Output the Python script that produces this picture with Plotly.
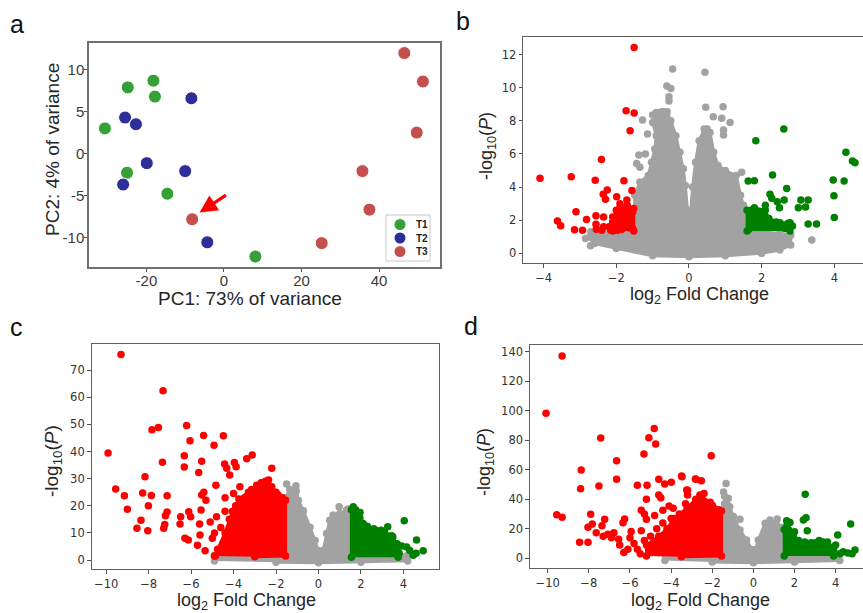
import plotly.graph_objects as go

W, H = 863, 613

# ---------------- Panel a : PCA ----------------
pca_groups = ["T1", "T2", "T3"]
pca_t1_x = [-30.7, -24.8, -18.2, -17.8, -25.0, -14.6, 8.1]
pca_t1_y = [3.0, 7.9, 8.7, 6.8, -2.3, -4.8, -12.3]
pca_t2_x = [-8.4, -25.5, -22.7, -19.9, -10.0, -26.0, -4.3]
pca_t2_y = [6.6, 4.3, 3.5, -1.15, -2.1, -3.7, -10.6]
pca_t3_x = [46.5, 51.3, 49.7, 35.7, 37.5, 25.2, -8.2]
pca_t3_y = [12.0, 8.6, 2.5, -2.1, -6.7, -10.7, -7.85]
pca_xticks = [-20, 0, 20, 40]
pca_yticks = [-10, -5, 0, 5, 10]
arrow_tail = (0.9, -4.85)
arrow_head = (-6.3, -7.05)

# ---------------- Panel b : volcano ----------------
b_gray_env_x = [-2.85, -2.7, -2.0, -1.53, -1.49, -1.35, -1.12, -1.03, -0.94, -0.9, -1.0, -0.92, -0.76, -0.6, -0.5,
                -0.36, -0.25, -0.16, -0.1, -0.04, 0.0, 0.05, 0.1, 0.18, 0.28, 0.42, 0.58, 0.68, 0.8, 1.0, 1.3, 1.42,
                1.5, 1.6, 2.0, 2.5, 2.8, 2.8, 2.5, 2.0, 1.0, 0.0, -1.0, -2.0, -2.6]
b_gray_env_y = [0.9, 1.3, 1.3, 1.4, 3.5, 4.3, 4.7, 5.5, 6.3, 7.1, 7.9, 8.35, 8.55, 8.55, 8.0, 7.1, 6.1, 5.1, 4.1,
                2.6, 1.6, 2.6, 4.0, 5.5, 6.8, 7.5, 7.3, 6.1, 5.3, 5.0, 4.7, 3.5, 2.9, 1.5, 1.3, 1.2, 1.1, 0.5, 0.2,
                0.0, -0.15, -0.2, -0.15, 0.3, 0.6]
b_gray_x = [-0.45, -0.61, -0.5, -0.55, -0.55, -1.28, -1.0, -1.14, -1.38, -1.44, -1.2, -1.35, -2.71, -0.16, 0.44,
            0.46, 0.94, 0.67, 0.9, 1.13, 0.95, 0.95, 0.5, 3.38, 1.45, 1.2, 1.0, 2.75, -0.9, -0.7]
b_gray_y = [11.13, 10.1, 9.95, 9.45, 9.2, 8.05, 8.35, 7.2, 5.94, 5.43, 6.0, 5.2, 0.46, 5.1, 10.93, 8.82, 8.85,
            8.25, 8.15, 7.9, 7.45, 7.15, 7.5, 0.8, 4.9, 4.6, 4.6, 0.95, 8.5, 8.55]
b_red_env_x = [-2.1, -2.1, -1.9, -1.7, -1.52, -1.52]
b_red_env_y = [1.35, 2.2, 2.7, 2.9, 2.7, 1.35]
b_red_x = [-1.51, -1.73, -1.51, -1.62, -2.41, -4.10, -3.24, -2.58, -1.79, -1.57, -2.25, -2.36, -2.30, -1.99, -1.71,
           -1.9, -3.11, -3.62, -3.53, -3.15, -2.93, -2.82, -2.56, -2.35, -2.56, -2.55, -2.20, -1.95, -1.8, -1.7,
           -1.55, -1.9, -1.65, -1.75, -1.55, -1.97, -2.35, -2.1, -2.0, -1.6, -2.4, -1.85, -2.15]
b_red_y = [12.42, 8.61, 8.47, 7.4, 5.67, 4.53, 4.63, 4.41, 4.38, 3.8, 3.82, 3.56, 3.26, 3.42, 3.22, 3.0, 2.51,
           1.95, 1.67, 1.43, 1.39, 2.05, 2.27, 2.2, 1.75, 1.45, 1.6, 2.3, 2.7, 2.35, 2.5, 1.65, 1.55, 1.9, 1.5,
           1.4, 1.6, 1.9, 2.6, 2.0, 1.4, 1.45, 1.4]
b_green_env_x = [1.6, 1.6, 1.8, 2.1, 2.2, 2.5, 2.78, 2.78]
b_green_env_y = [1.35, 2.6, 2.75, 2.6, 2.1, 1.85, 1.85, 1.35]
b_green_x = [2.61, 1.84, 4.32, 4.5, 4.57, 2.30, 1.63, 1.80, 3.97, 4.27, 3.99, 4.0, 2.23, 2.28, 2.49, 2.62, 2.69,
             2.43, 3.08, 3.28, 3.01, 3.21, 3.28, 3.51, 2.73, 2.55, 2.2, 2.0, 1.7, 1.9, 2.1, 2.4, 1.65, 2.65, 2.85]
b_green_y = [7.5, 6.8, 6.1, 5.57, 5.47, 4.73, 4.37, 4.38, 4.43, 4.37, 3.48, 2.17, 3.56, 3.32, 2.76, 3.22, 3.92,
             3.12, 3.22, 3.22, 2.76, 2.8, 1.77, 1.77, 1.81, 1.6, 1.75, 2.2, 2.6, 2.5, 2.9, 1.9, 1.45, 1.5, 1.65]
b_xticks = [-4, -2, 0, 2, 4]
b_yticks = [0, 2, 4, 6, 8, 10, 12]

# ---------------- Panel c : volcano ----------------
c_gray_env_x = [-4.9, -4.9, -1.55, -1.55, -1.35, -1.05, -0.95, -0.71, -0.40, -0.16, -0.02, 0.07, 0.22, 0.38, 0.53,
                0.69, 1.0, 1.32, 1.5, 1.5, 4.2, 4.2, 2.0, 0.0, -2.0]
c_gray_env_y = [-0.3, 1.8, 2.2, 23, 26, 25.5, 22, 18.2, 12.1, 7.2, 3.5, 2.4, 3.5, 9.8, 14.7, 16.6, 17.1, 18.4, 17,
                2.2, 1.8, -0.3, -0.8, -1.0, -0.8]
c_gray_x = [-1.5, -1.06, 0.97, 1.40, 4.07, -1.2, -1.1]
c_gray_y = [28.0, 27.4, 19.6, 18.8, 1.2, 25.5, 24.5]
c_red_env_x = [-4.85, -4.75, -4.4, -4.05, -3.75, -3.15, -2.7, -2.4, -1.9, -1.55, -1.55, -3.0]
c_red_env_y = [1.5, 4, 10, 18, 22.5, 26, 28.5, 27.5, 24, 22, 1.5, 1.2]
c_red_x = [-9.30, -7.32, -7.84, -7.54, -6.21, -6.05, -5.41, -4.48, -4.92, -9.91, -6.32, -7.35, -5.5, -6.32, -5.64,
           -3.38, -3.12, -4.42, -4.32, -3.96, -3.88, -4.18, -8.17, -9.55, -9.14, -8.28, -7.87, -7.13, -8.01, -9.0,
           -7.13, -7.21, -7.24, -7.29, -8.36, -8.55, -8.04, -6.49, -6.52, -6.11, -6.02, -6.29, -6.13, -5.53, -5.6,
           -5.58, -5.70, -5.34, -5.5, -5.4, -5.3, -4.83, -5.1, -4.9, -3.70, -2.91, -2.5, -4.4, -4.0, -2.2, -2.35,
           -3.0, -4.7, -4.5, -4.3, -4.6, -4.2, -4.4, -3.9, -3.6, -3.3, -2.9, -2.2, -2.0, -1.7, -4.9, -5.0, -4.8]
c_red_y = [75.7, 62.4, 48.0, 48.8, 49.6, 44.0, 45.9, 45.8, 42.3, 39.4, 38.4, 36.0, 36.4, 34.3, 32.3, 37.3, 38.7,
           35.4, 33.8, 35.9, 34.4, 31.3, 30.7, 26.2, 23.7, 24.7, 23.8, 23.7, 20.0, 18.7, 17.7, 16.3, 13.1, 11.7,
           14.7, 11.7, 10.8, 16.0, 13.3, 17.8, 16.0, 8.0, 7.4, 18.4, 13.3, 9.2, 5.5, 3.4, 24, 25, 22, 27.6, 14,
           10, 27.0, 27.6, 29, 23, 24.5, 33.8, 29.5, 25.5, 3, 6, 9, 12, 15, 18, 20, 22, 25, 26, 27, 25, 23, 1.5,
           8, 16]
c_green_env_x = [1.55, 1.55, 1.75, 1.95, 2.3, 2.7, 3.1, 3.45, 3.75, 3.75]
c_green_env_y = [1.0, 18.5, 18.5, 15.5, 12, 11, 10.5, 9, 5, 1.0]
c_green_x = [4.04, 4.62, 4.93, 4.46, 4.15, 3.92, 3.26, 1.64, 1.96, 2.3, 2.6, 2.95, 3.5, 3.7, 4.3, 4.6, 3.8, 1.8,
             2.1, 3.1]
c_green_y = [14.5, 7.4, 3.4, 1.8, 4.8, 5.2, 12.3, 19.6, 17.5, 12.5, 11.5, 11, 8.5, 6, 3.5, 2.5, 2.5, 15, 13.5, 9.5]
c_xticks = [-10, -8, -6, -4, -2, 0, 2, 4]
c_yticks = [0, 10, 20, 30, 40, 50, 60, 70]

# ---------------- Panel d : volcano ----------------
d_gray_env_x = [-4.3, -4.3, -1.55, -1.55, -1.4, -1.15, -0.97, -0.65, -0.33, -0.1, 0.03, 0.1, 0.24, 0.57, 0.81, 1.1,
                1.45, 1.45, 4.2, 4.2, 2.0, 0.0, -2.0]
d_gray_env_y = [-1.5, 2.5, 3, 33, 37, 35, 28.3, 19.2, 12.4, 6, 3.5, 6, 12.4, 23.7, 25.9, 24, 21, 3, 2.5, -1.5, -2.5,
                -3, -2.5]
d_gray_x = [-1.33, -1.22, -1.3, -0.65, 1.16, -1.45, -1.4]
d_gray_y = [50.8, 40.7, 37.3, 26.5, 26.7, 45, 42]
d_red_env_x = [-5.2, -5.2, -4.6, -4.2, -3.87, -3.22, -2.6, -2.1, -1.55, -1.55, -3.5]
d_red_env_y = [1.5, 9, 15, 20, 27, 34, 43, 38, 32, 1.5, 1.0]
d_red_x = [-9.30, -10.08, -7.42, -4.82, -5.08, -4.75, -5.32, -6.65, -8.37, -6.65, -8.40, -7.51, -9.56, -9.30, -7.91,
           -8.04, -7.83, -7.23, -7.36, -7.64, -8.45, -8.04, -7.07, -6.78, -6.55, -6.26, -6.34, -6.1, -5.64, -5.94,
           -5.45, -5.64, -5.17, -5.45, -5.3, -5.2, -5.2, -4.8, -4.6, -4.6, -4.5, -4.31, -3.99, -3.47, -3.2, -3.2,
           -2.82, -2.53, -4.1, -3.9, -4.4, -2.05, -3.24, -2.79, -3.49, -6.9, -6.5, -5.8, -5.3, -5.0, -4.7, -4.4,
           -4.0, -3.6, -3.3, -2.8, -2.4, -2.0, -1.7, -5.5, -5.0, -4.5, -6.3, -7.3, -6.0]
d_red_y = [137.3, 98.4, 81.6, 88.0, 81.8, 77.5, 70.8, 66.2, 59.9, 53.6, 47.2, 49.0, 29.6, 27.8, 29.9, 21.0, 23.3,
           26.5, 22.1, 17.3, 10.8, 10.8, 16.3, 17.4, 12.9, 26.6, 24.1, 6.1, 6.1, 18.1, 18.7, 49.5, 49.5, 32.5, 30,
           40.0, 26.5, 29, 53.6, 43, 41, 50.4, 51.6, 55.3, 46.1, 43, 53.8, 52.6, 35.5, 34, 32.5, 69.6, 46.3, 53.6,
           55.8, 14, 9, 10, 12, 15, 20, 24, 27, 30, 37, 40, 44, 36, 33, 3, 5, 8, 4, 15, 14]
d_green_env_x = [1.5, 1.5, 1.7, 1.95, 2.5, 3.0, 3.4, 3.85, 3.9]
d_green_env_y = [1.5, 19.5, 19.5, 14.5, 11, 10.5, 11, 7.5, 1.5]
d_green_x = [2.52, 2.56, 2.43, 2.62, 4.73, 4.1, 1.62, 1.78, 4.37, 4.94, 4.0, 3.6, 3.2, 2.8, 2.2, 1.9, 4.2, 4.6,
             4.8, 3.9, 1.6, 2.0]
d_green_y = [43.4, 27.5, 26.0, 18.7, 23.3, 15.8, 25.5, 24.2, 4.5, 5.6, 9, 11, 12, 10.5, 12, 15, 3, 3.5, 3, 6, 21, 18]
d_xticks = [-10, -8, -6, -4, -2, 0, 2, 4]
d_yticks = [0, 20, 40, 60, 80, 100, 120, 140]

# ---------------- styling ----------------
GRAY = "#a2a2a2"
RED = "#ff0000"
GREEN = "#008000"
PCA_COLORS = ["#35a035", "#2e2e98", "#c4504e"]
VS = 7.5


def fx(p):
    return p / W


def fy(p):
    return 1 - p / H


fig = go.Figure()


def env(x, y, color, n):
    fig.add_trace(go.Scatter(x=x, y=y, mode="lines+markers", fill="toself", fillcolor=color,
                             line=dict(color=color, width=3), marker=dict(color=color, size=VS, line_width=0),
                             hoverinfo="skip", showlegend=False, xaxis="x%d" % n, yaxis="y%d" % n))


def pts(x, y, color, n, size=VS):
    fig.add_trace(go.Scatter(x=x, y=y, mode="markers", marker=dict(color=color, size=size, line_width=0),
                             hoverinfo="skip", showlegend=False, xaxis="x%d" % n, yaxis="y%d" % n))


# panel a
for name, xs, ys, col in zip(pca_groups, [pca_t1_x, pca_t2_x, pca_t3_x], [pca_t1_y, pca_t2_y, pca_t3_y],
                             PCA_COLORS):
    fig.add_trace(go.Scatter(x=xs, y=ys, mode="markers", name=name, showlegend=False,
                             marker=dict(color=col, size=13, line=dict(color="white", width=1)),
                             xaxis="x", yaxis="y"))

# volcano panels
for n, data in [(2, (b_gray_env_x, b_gray_env_y, b_gray_x, b_gray_y, b_red_env_x, b_red_env_y, b_red_x, b_red_y,
                     b_green_env_x, b_green_env_y, b_green_x, b_green_y)),
                (3, (c_gray_env_x, c_gray_env_y, c_gray_x, c_gray_y, c_red_env_x, c_red_env_y, c_red_x, c_red_y,
                     c_green_env_x, c_green_env_y, c_green_x, c_green_y)),
                (4, (d_gray_env_x, d_gray_env_y, d_gray_x, d_gray_y, d_red_env_x, d_red_env_y, d_red_x, d_red_y,
                     d_green_env_x, d_green_env_y, d_green_x, d_green_y))]:
    gex, gey, gx, gy, rex, rey, rx, ry, nex, ney, nx, ny = data
    env(gex, gey, GRAY, n)
    pts(gx, gy, GRAY, n)
    env(rex, rey, RED, n)
    pts(rx, ry, RED, n)
    env(nex, ney, GREEN, n)
    pts(nx, ny, GREEN, n)

TICKFONT_A = dict(family="Liberation Sans, Arial, sans-serif", size=15, color="#3a3a3a")
TICKFONT_V = dict(family="DejaVu Sans, sans-serif", size=11.5, color="#333333")


def pca_axis(dom, rng, ticks, anchor, standoff):
    return dict(domain=dom, range=rng, tickvals=ticks, ticktext=[str(t) for t in ticks], anchor=anchor,
                showgrid=False, zeroline=False, showline=True, linecolor="#707070", linewidth=1.5,
                mirror=True, ticks="outside", ticklen=3, tickcolor="#505050", tickfont=TICKFONT_A,
                ticklabelstandoff=standoff)


def v_axis(dom, rng, ticks, anchor, mirror=True):
    return dict(domain=dom, range=rng, tickvals=ticks, anchor=anchor, showgrid=False, zeroline=False,
                showline=True, linecolor="#606060", linewidth=1.3, mirror=mirror, ticks="outside", ticklen=3.5,
                tickcolor="#505050", tickfont=TICKFONT_V)


fig.update_layout(
    width=W, height=H, margin=dict(l=0, r=0, t=0, b=0),
    paper_bgcolor="white", plot_bgcolor="white", showlegend=False,
    xaxis=pca_axis([fx(89), fx(440)], [-34.8, 55.7], pca_xticks, "y", -4),
    yaxis=pca_axis([fy(267), fy(43)], [-13.55, 13.2], pca_yticks, "x", -3),
    xaxis2=v_axis([fx(523.3), 1.0], [-4.56, 4.79], b_xticks, "y2"),
    yaxis2=v_axis([fy(263.3), fy(37.3)], [-0.6, 13.04], b_yticks, "x2", mirror=False),
    xaxis3=v_axis([fx(91.7), fx(439.3)], [-10.68, 5.69], c_xticks, "y3"),
    yaxis3=v_axis([fy(569.3), fy(344)], [-3.4, 79.6], c_yticks, "x3"),
    xaxis4=v_axis([fx(530), 1.0], [-10.86, 5.33], d_xticks, "y4"),
    yaxis4=v_axis([fy(568.3), fy(345)], [-6.8, 144.7], d_yticks, "x4", mirror=False),
)

TITLE_FONT = "Liberation Sans, Arial, sans-serif"
ann = []
shapes = []


def title(text, x, y, size, angle=0):
    ann.append(dict(text=text, x=fx(x), y=fy(y), xref="paper", yref="paper", showarrow=False,
                    textangle=angle, font=dict(family=TITLE_FONT, size=size, color="#262626"),
                    xanchor="center", yanchor="middle"))


title("PC1: 73% of variance", 250, 299, 19)
title("PC2: 4% of variance", 52, 150, 19, -90)
ylab = "-log<sub>10</sub>(<i>P</i>)"
xlab = "log<sub>2</sub> Fold Change"
title(xlab, 699, 295, 18)
title(ylab, 488, 146, 18, -90)
title(xlab, 246, 601, 18)
title(ylab, 53, 461, 19, -90)
title(xlab, 700, 601, 18)
title(ylab, 485, 462, 18, -90)

for letter, x, y in [("a", 17, 24), ("b", 463, 21), ("c", 16, 327), ("d", 471, 326)]:
    ann.append(dict(text=letter, x=fx(x), y=fy(y), xref="paper", yref="paper", showarrow=False,
                    font=dict(family="Liberation Sans, Arial", size=25, color="#111"),
                    xanchor="center", yanchor="middle"))

ann.append(dict(x=arrow_head[0], y=arrow_head[1], ax=arrow_tail[0], ay=arrow_tail[1], xref="x", yref="y",
                axref="x", ayref="y", text="", showarrow=True, arrowhead=2, arrowsize=1.1, arrowwidth=3.2,
                arrowcolor="#ff0000"))

# legend of panel a (box, swatches, labels)
LEG_BOX = (386, 215, 430, 261)
LEG_SWATCH_X = 400
LEG_TEXT_X = 422
LEG_ROWS = [224.5, 238, 251.5]
shapes.append(dict(type="rect", xref="paper", yref="paper", x0=fx(LEG_BOX[0]), x1=fx(LEG_BOX[2]),
                   y0=fy(LEG_BOX[3]), y1=fy(LEG_BOX[1]), line=dict(color="#c8c8c8", width=1),
                   fillcolor="white", layer="above"))
for name, col, ry in zip(pca_groups, PCA_COLORS, LEG_ROWS):
    shapes.append(dict(type="circle", xref="paper", yref="paper", x0=fx(LEG_SWATCH_X - 5.5),
                       x1=fx(LEG_SWATCH_X + 5.5), y0=fy(ry + 5.5), y1=fy(ry - 5.5),
                       fillcolor=col, line=dict(color=col, width=0), layer="above"))
    ann.append(dict(text="<b>%s</b>" % name, x=fx(LEG_TEXT_X), y=fy(ry), xref="paper", yref="paper",
                    showarrow=False, font=dict(family="Liberation Sans, Arial", size=10, color="#222"),
                    xanchor="center", yanchor="middle"))

fig.update_layout(annotations=ann, shapes=shapes)
fig.write_html("out.html")
